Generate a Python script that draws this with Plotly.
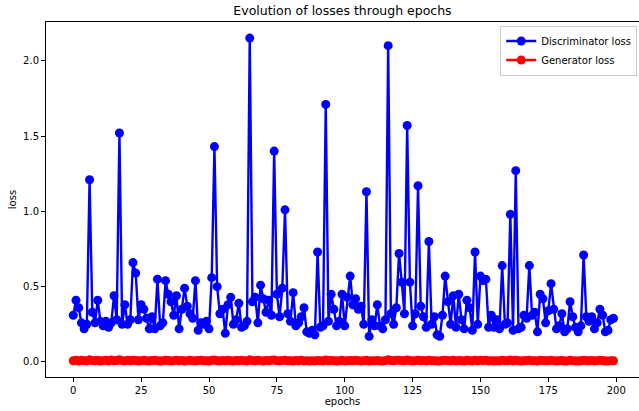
import plotly.graph_objects as go

# Per-epoch losses recorded during GAN training
epochs = list(range(200))

discriminator_loss = [
    0.31, 0.41, 0.36, 0.26, 0.22, 0.25, 1.21, 0.33, 0.26, 0.41,
    0.27, 0.24, 0.27, 0.23, 0.26, 0.44, 0.28, 1.52, 0.25, 0.38,
    0.25, 0.28, 0.66, 0.59, 0.28, 0.38, 0.35, 0.29, 0.22, 0.30,
    0.22, 0.55, 0.24, 0.26, 0.54, 0.45, 0.40, 0.31, 0.44, 0.22,
    0.35, 0.49, 0.37, 0.32, 0.29, 0.54, 0.21, 0.26, 0.25, 0.27,
    0.22, 0.56, 1.43, 0.50, 0.32, 0.35, 0.19, 0.38, 0.43, 0.25,
    0.28, 0.39, 0.23, 0.24, 0.27, 2.15, 0.40, 0.43, 0.26, 0.51,
    0.42, 0.33, 0.41, 0.31, 1.40, 0.45, 0.30, 0.49, 1.01, 0.32,
    0.27, 0.46, 0.24, 0.26, 0.30, 0.36, 0.20, 0.19, 0.21, 0.18,
    0.73, 0.23, 0.24, 1.71, 0.27, 0.45, 0.35, 0.24, 0.27, 0.45,
    0.24, 0.43, 0.57, 0.38, 0.42, 0.35, 0.37, 0.25, 1.13, 0.17,
    0.28, 0.24, 0.38, 0.24, 0.22, 0.28, 2.10, 0.32, 0.25, 0.36,
    0.72, 0.53, 0.32, 1.57, 0.53, 0.24, 0.32, 1.17, 0.37, 0.30,
    0.23, 0.80, 0.25, 0.30, 0.18, 0.17, 0.31, 0.57, 0.40, 0.25,
    0.44, 0.23, 0.45, 0.28, 0.22, 0.41, 0.36, 0.21, 0.73, 0.25,
    0.57, 0.54, 0.55, 0.23, 0.31, 0.23, 0.28, 0.22, 0.64, 0.25,
    0.26, 0.98, 0.21, 1.27, 0.22, 0.23, 0.31, 0.29, 0.64, 0.31,
    0.33, 0.20, 0.45, 0.42, 0.26, 0.34, 0.52, 0.35, 0.22, 0.24,
    0.32, 0.20, 0.22, 0.40, 0.30, 0.23, 0.20, 0.24, 0.71, 0.30,
    0.27, 0.30, 0.22, 0.26, 0.35, 0.31, 0.20, 0.21, 0.28, 0.29,
]

generator_loss = [
    0.008, 0.011, 0.006, 0.012, 0.009, 0.007, 0.014, 0.010, 0.008, 0.012,
    0.006, 0.009, 0.011, 0.007, 0.013, 0.008, 0.010, 0.015, 0.009, 0.007,
    0.011, 0.008, 0.012, 0.010, 0.006, 0.009, 0.011, 0.008, 0.007, 0.010,
    0.012, 0.009, 0.006, 0.008, 0.011, 0.010, 0.007, 0.009, 0.012, 0.008,
    0.010, 0.006, 0.009, 0.011, 0.008, 0.007, 0.010, 0.012, 0.009, 0.008,
    0.006, 0.011, 0.013, 0.009, 0.007, 0.010, 0.008, 0.011, 0.009, 0.006,
    0.010, 0.008, 0.012, 0.009, 0.007, 0.014, 0.010, 0.008, 0.011, 0.009,
    0.006, 0.010, 0.008, 0.012, 0.013, 0.009, 0.007, 0.010, 0.011, 0.008,
    0.009, 0.006, 0.010, 0.008, 0.011, 0.007, 0.009, 0.006, 0.008, 0.007,
    0.010, 0.009, 0.007, 0.013, 0.008, 0.010, 0.009, 0.006, 0.008, 0.011,
    0.007, 0.009, 0.010, 0.008, 0.012, 0.009, 0.007, 0.008, 0.012, 0.006,
    0.009, 0.008, 0.010, 0.007, 0.006, 0.009, 0.014, 0.010, 0.008, 0.011,
    0.012, 0.009, 0.008, 0.013, 0.010, 0.007, 0.009, 0.012, 0.008, 0.010,
    0.007, 0.011, 0.008, 0.009, 0.006, 0.007, 0.010, 0.012, 0.009, 0.008,
    0.011, 0.007, 0.010, 0.008, 0.006, 0.011, 0.009, 0.007, 0.012, 0.008,
    0.011, 0.010, 0.012, 0.007, 0.009, 0.006, 0.008, 0.007, 0.012, 0.009,
    0.008, 0.013, 0.007, 0.012, 0.008, 0.006, 0.009, 0.010, 0.012, 0.008,
    0.009, 0.006, 0.011, 0.010, 0.008, 0.009, 0.011, 0.009, 0.007, 0.008,
    0.010, 0.006, 0.007, 0.011, 0.009, 0.007, 0.006, 0.008, 0.012, 0.009,
    0.008, 0.010, 0.007, 0.009, 0.011, 0.010, 0.006, 0.007, 0.009, 0.008,
]

FONT = "DejaVu Sans, Verdana, sans-serif"

fig = go.Figure()
fig.add_trace(go.Scatter(
    x=epochs, y=discriminator_loss, mode="lines+markers",
    name="Discriminator loss",
    line=dict(color="#0000ff", width=2.4),
    marker=dict(color="#0000ff", size=9),
))
fig.add_trace(go.Scatter(
    x=epochs, y=generator_loss, mode="lines+markers",
    name="Generator loss",
    line=dict(color="#ff0000", width=2.4),
    marker=dict(color="#ff0000", size=9),
))

axis_common = dict(
    showgrid=False, zeroline=False, showline=True, linecolor="black",
    linewidth=1, ticks="outside", ticklen=4, tickcolor="black",
    tickfont=dict(family=FONT, size=10, color="black"),
)

fig.update_layout(
    width=639, height=411,
    margin=dict(l=46, r=0, t=22, b=34),
    paper_bgcolor="white", plot_bgcolor="white",
    font=dict(family=FONT, size=10, color="black"),
    title=dict(
        text="Evolution of losses through epochs",
        x=(46 + 639) / 2 / 639, xanchor="center",
        y=1 - 11 / 411, yanchor="middle",
        font=dict(family=FONT, size=12.5, color="black"),
    ),
    xaxis=dict(
        **axis_common, mirror=True,
        range=[-10.05, 208.4],
        tickvals=[0, 25, 50, 75, 100, 125, 150, 175, 200],
        title=dict(text="epochs", font=dict(family=FONT, size=10), standoff=2),
    ),
    yaxis=dict(
        **axis_common,
        range=[-0.0997, 2.257],
        tickvals=[0.0, 0.5, 1.0, 1.5, 2.0],
        ticktext=["0.0", "0.5", "1.0", "1.5", "2.0"],
        title=dict(text="loss", font=dict(family=FONT, size=10), standoff=4),
    ),
    legend=dict(
        x=0.997, y=0.99, xanchor="right", yanchor="top",
        bgcolor="rgba(255,255,255,0.8)", bordercolor="#cccccc", borderwidth=1,
        font=dict(family=FONT, size=10, color="black"),
        tracegroupgap=0, itemwidth=30,
    ),
    showlegend=True,
)

fig.write_html("out.html")
